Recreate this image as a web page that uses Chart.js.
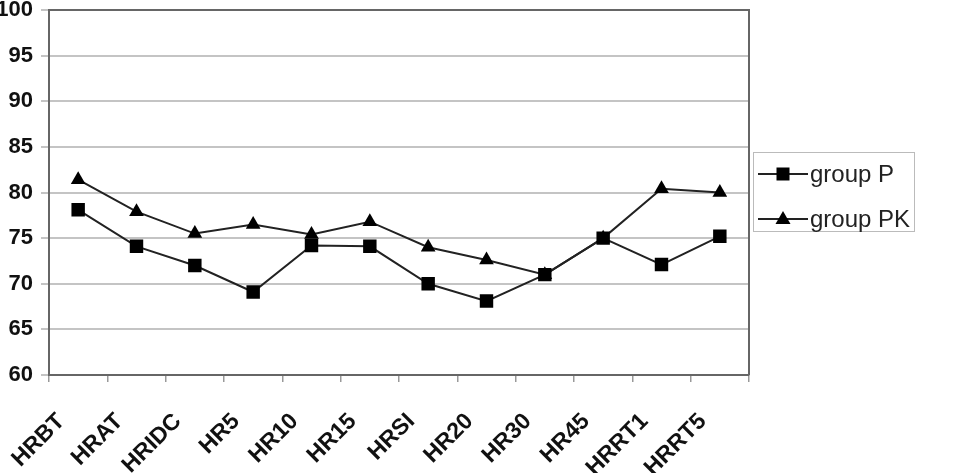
<!DOCTYPE html>
<html>
<head>
<meta charset="utf-8">
<script src="https://cdn.jsdelivr.net/npm/chart.js@4/dist/chart.umd.min.js"></script>
<style>
  html, body { margin: 0; padding: 0; background: #fff; }
  #wrap { width: 955px; height: 473px; position: relative; }
</style>
</head>
<body>
<div id="wrap"><canvas id="hrChart"></canvas></div>
<script>
const labels = ['HRBT', 'HRAT', 'HRIDC', 'HR5', 'HR10', 'HR15', 'HRSI', 'HR20', 'HR30', 'HR45', 'HRRT1', 'HRRT5'];
const groupP = [78.1, 74.1, 72.0, 69.1, 74.2, 74.1, 70.0, 68.1, 71.0, 75.0, 72.1, 75.2];
const groupPK = [81.4, 77.9, 75.5, 76.5, 75.4, 76.8, 74.0, 72.6, 71.0, 75.0, 80.4, 80.0];
const seriesNames = ['group P', 'group PK'];

const lineColor = '#222222';

// box round the plot area (top and right sides)
const frame = {
    id: 'frame',
    afterDraw(chart) {
        const { ctx, chartArea: a } = chart;
        ctx.save();
        ctx.strokeStyle = '#666';
        ctx.lineWidth = 2;
        ctx.beginPath();
        ctx.moveTo(a.left, a.top);
        ctx.lineTo(a.right, a.top);
        ctx.lineTo(a.right, a.bottom);
        ctx.stroke();
        ctx.restore();
    }
};

// legend on the right, line with marker in the middle
const sideLegend = {
    id: 'sideLegend',
    afterDraw(chart) {
        const ctx = chart.ctx;
        const box = { x: 753, y: 152, w: 161, h: 79 };
        ctx.save();
        ctx.strokeStyle = '#bbb';
        ctx.lineWidth = 1;
        ctx.strokeRect(box.x + 0.5, box.y + 0.5, box.w, box.h);
        ctx.font = '24px "Liberation Sans", Arial, sans-serif';
        ctx.textBaseline = 'middle';
        chart.data.datasets.forEach((ds, i) => {
            const y = box.y + 22 + i * 45;
            ctx.strokeStyle = lineColor;
            ctx.lineWidth = 2;
            ctx.beginPath();
            ctx.moveTo(box.x + 5, y);
            ctx.lineTo(box.x + 55, y);
            ctx.stroke();
            ctx.fillStyle = '#000';
            const cx = box.x + 30;
            if (ds.pointStyle === 'rect') {
                ctx.fillRect(cx - 6.5, y - 6.5, 13, 13);
            } else {
                ctx.beginPath();
                ctx.moveTo(cx, y - 8);
                ctx.lineTo(cx + 7.5, y + 5);
                ctx.lineTo(cx - 7.5, y + 5);
                ctx.closePath();
                ctx.fill();
            }
            ctx.fillStyle = '#222';
            ctx.fillText(ds.label, box.x + 57, y + 1);
        });
        ctx.restore();
    }
};

new Chart(document.getElementById('hrChart'), {
    type: 'line',
    data: {
        labels: labels,
        datasets: [
            {
                label: seriesNames[0],
                data: groupP,
                borderColor: lineColor,
                borderWidth: 2,
                pointStyle: 'rect',
                pointRadius: 9.5,
                pointBackgroundColor: '#000',
                pointBorderColor: '#000',
                pointBorderWidth: 0,
                tension: 0
            },
            {
                label: seriesNames[1],
                data: groupPK,
                borderColor: lineColor,
                borderWidth: 2,
                pointStyle: 'triangle',
                pointRadius: 8.5,
                pointBackgroundColor: '#000',
                pointBorderColor: '#000',
                pointBorderWidth: 0,
                tension: 0
            }
        ]
    },
    options: {
        responsive: true,
        maintainAspectRatio: false,
        animation: false,
        layout: { padding: { top: 10, right: 206, left: 0, bottom: 0 } },
        plugins: {
            legend: { display: false },
            tooltip: { enabled: false }
        },
        scales: {
            x: {
                offset: true,
                grid: { offset: true, drawOnChartArea: false, tickLength: 7, color: '#999', lineWidth: 1.5 },
                border: { display: true, color: '#666', width: 2 },
                ticks: {
                    minRotation: 45,
                    maxRotation: 45,
                    padding: 26,
                    labelOffset: -17,
                    color: '#111',
                    font: { family: '"Liberation Sans", Arial, sans-serif', size: 23, weight: 'bold' }
                },
                afterFit(scale) {
                    scale.height = 98;
                    scale.paddingLeft = 0;
                    scale.paddingRight = 0;
                }
            },
            y: {
                min: 60,
                max: 100,
                ticks: {
                    stepSize: 5,
                    padding: 8,
                    color: '#111',
                    font: { family: '"Liberation Sans", Arial, sans-serif', size: 22, weight: 'bold' }
                },
                grid: { color: '#c4c4c4', lineWidth: 2, tickLength: 8 },
                border: { display: true, color: '#666', width: 2 },
                afterFit(scale) {
                    scale.width = 49;
                    scale.paddingTop = 0;
                    scale.paddingBottom = 0;
                }
            }
        }
    },
    plugins: [frame, sideLegend]
});
</script>
</body>
</html>
